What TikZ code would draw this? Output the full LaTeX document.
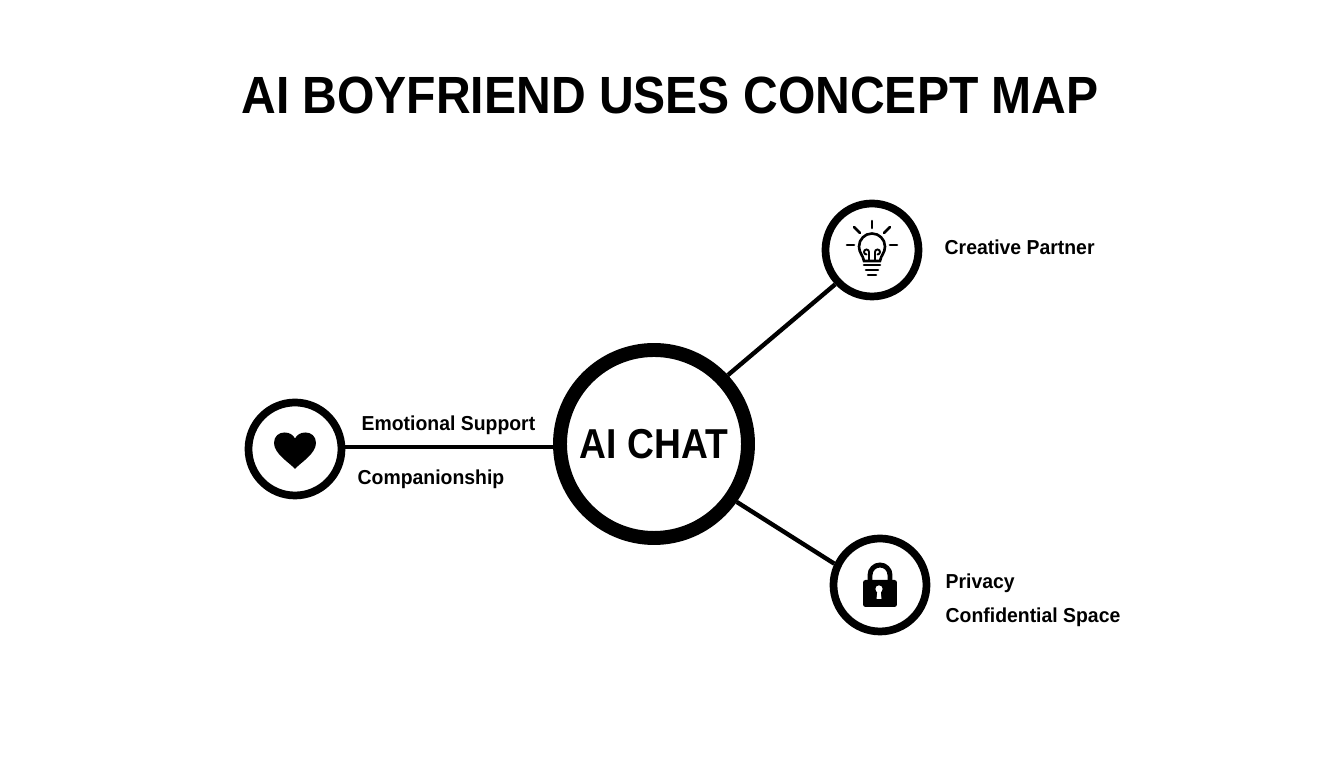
\documentclass[tikz,border=0pt]{standalone}
\usepackage{fontspec}
\setmainfont{Liberation Sans}
\newfontface\titleface{Liberation Sans Bold}[FakeStretch=0.918]
\newfontface\hubface{Liberation Sans Bold}[FakeStretch=0.89]
\newfontface\labelface{Liberation Sans Bold}[FakeStretch=0.96]
\tikzset{
  hubnode/.style={circle,draw=black,line width=3.97pt,minimum size=1.88cm,inner sep=0pt,font=\hubface\fontsize{11.9}{14}\selectfont},
  topicnode/.style={circle,draw=black,line width=2.2pt,minimum size=0.93cm,inner sep=0pt},
  linkline/.style={line width=1.25pt},
  labeltext/.style={anchor=west,inner sep=0pt,font=\labelface\fontsize{5.75}{7}\selectfont},
  iconline/.style={line width=.75pt,line cap=round}
}
\begin{document}
\begin{tikzpicture}[x=1cm,y=1cm]
\useasboundingbox (0,0) rectangle (13.44,7.68);
\node (title) at (6.70,6.73)[inner sep=0pt,font=\titleface\fontsize{14.9}{18}\selectfont]{AI BOYFRIEND USES CONCEPT MAP};
\node[hubnode] (hub) at (6.54,3.24){AI CHAT};
\node[topicnode] (heart) at (2.95,3.19){};
\node[topicnode] (bulb) at (8.72,5.18){};
\node[topicnode] (lock) at (8.80,1.83){};
\draw[linkline] (heart.2)--(hub.west |- heart.2);
\draw[linkline] (hub.43)--(bulb.223);
\draw[linkline] (hub.-35.7)--(lock.155);
\node[labeltext] (support) at (3.61,3.43){Emotional Support};
\node[labeltext] (company) at (3.57,2.89){Companionship};
\node[labeltext] (creative) at (9.44,5.21){Creative Partner};
\node[labeltext] (privacy) at (9.45,1.85){Privacy};
\node[labeltext] (space) at (9.45,1.51){Confidential Space};
% heart
\begin{scope}[shift={(heart)},x=.01cm,y=.01cm]
\fill (0,-20) .. controls (-5,-14) and (-21,-5) .. (-21,6)
  .. controls (-21,13) and (-16,16.5) .. (-10.5,16.5)
  .. controls (-5,16.5) and (-2,14) .. (0,10.5)
  .. controls (2,14) and (5,16.5) .. (10.5,16.5)
  .. controls (16,16.5) and (21,13) .. (21,6)
  .. controls (21,-5) and (5,-14) .. (0,-20)--cycle;
\end{scope}
% bulb
\begin{scope}[shift={(bulb)},x=.01cm,y=.01cm]
\draw[iconline] (0,29)--(0,22);
\draw[iconline] (-18,23)--(-12,17);
\draw[iconline] (18,23)--(12,17);
\draw[iconline] (-25,5)--(-18,5);
\draw[iconline] (18,5)--(25,5);
\draw[iconline] (-8,-11) .. controls (-9,-5) and (-13,-3) .. (-13,3.5)
  arc (180:0:13) .. controls (13,-3) and (9,-5) .. (8,-11)--cycle;
\draw[iconline,line width=.55pt] (-3,-11)--(-3,-2) arc (0:270:2.5) (3,-11)--(3,-2) arc (180:-90:2.5);
\draw[iconline] (-8,-15)--(8,-15);
\draw[iconline] (-6,-20)--(6,-20);
\draw[iconline] (-4,-25)--(4,-25);
\end{scope}
% lock
\begin{scope}[shift={(lock)},x=.01cm,y=.01cm]
\draw[line width=1.4pt] (-10,4)--(-10,10) arc (180:0:10)--(10,4);
\fill[rounded corners=.025cm] (-17,5) rectangle (17,-22);
\fill[white] (-1,-4) circle (3.6);
\fill[white] (-2.5,-5)--(-3.5,-14)--(1.5,-14)--(0.5,-5)--cycle;
\end{scope}
\end{tikzpicture}
\end{document}
